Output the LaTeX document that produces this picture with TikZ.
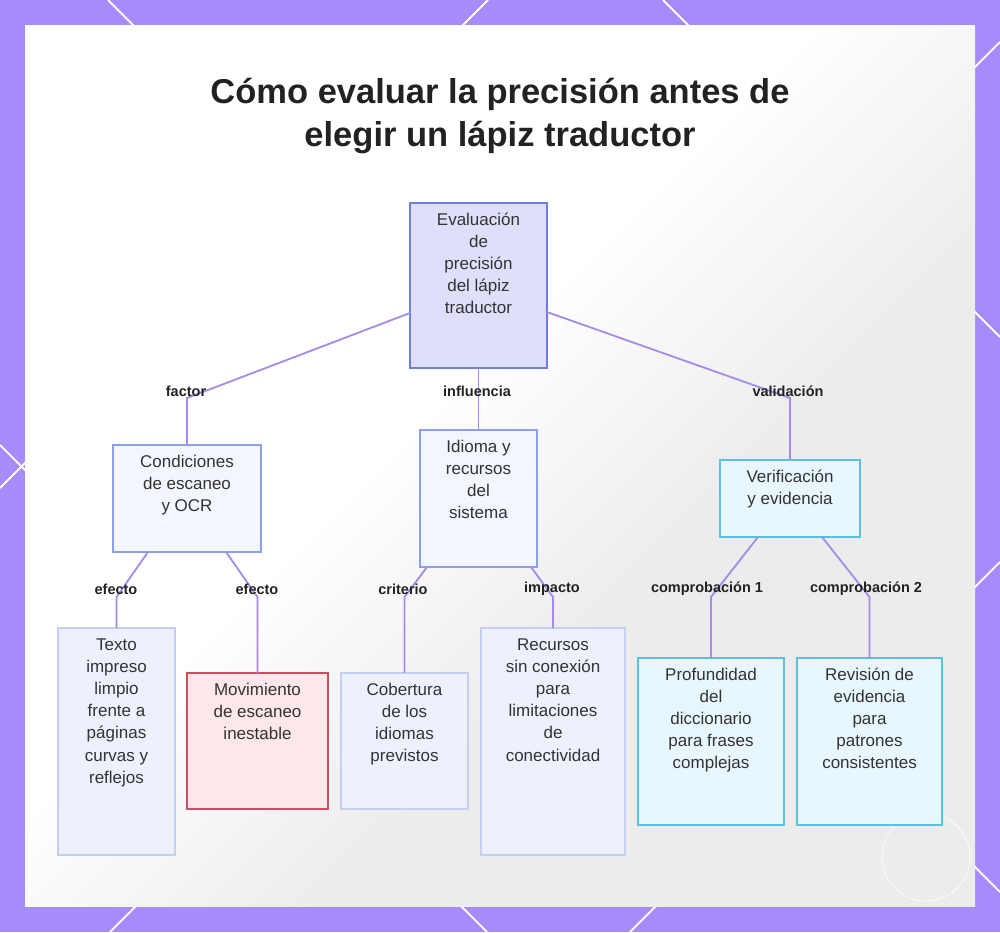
\documentclass[tikz,border=0pt]{standalone}
\usepackage{fontspec}
\setmainfont{Liberation Sans}
\usetikzlibrary{calc}
\definecolor{bgpurple}{HTML}{A78BFA}
\definecolor{connc}{HTML}{A58BE8}
\definecolor{txt}{HTML}{333333}
\definecolor{ttl}{HTML}{222222}
\definecolor{rootfill}{HTML}{DFDFFC}
\definecolor{rootdraw}{HTML}{6F7FD8}
\definecolor{midfill}{HTML}{F3F5FF}
\definecolor{middraw}{HTML}{8CA0E6}
\definecolor{leaffill}{HTML}{EEF1FD}
\definecolor{leafdraw}{HTML}{C5CFF2}
\definecolor{redfill}{HTML}{FDE7EB}
\definecolor{reddraw}{HTML}{C9515F}
\definecolor{cyanfill}{HTML}{E8F7FD}
\definecolor{cyandraw}{HTML}{5BC0DE}
\definecolor{pgray}{HTML}{ECECEC}
\pgfdeclareverticalshading{diagshade}{100bp}{color(0bp)=(pgray); color(40bp)=(pgray); color(55bp)=(white); color(100bp)=(white)}
\newcommand\mybox[7]{\node[#2] (#1) at (#3,#4) {\parbox[c][#6pt][t]{#5pt}{\centering\vspace*{6.5pt}\strut #7}};}
\tikzset{
  boxbase/.style={draw, line width=1.5pt, inner sep=0pt, outer sep=0pt, text=txt, font=\fontsize{17}{22.2}\selectfont},
  rootbox/.style={boxbase, fill=rootfill, draw=rootdraw},
  midbox/.style={boxbase, fill=midfill, draw=middraw},
  leafbox/.style={boxbase, fill=leaffill, draw=leafdraw},
  redbox/.style={boxbase, fill=redfill, draw=reddraw},
  cyanbox/.style={boxbase, fill=cyanfill, draw=cyandraw},
  conn/.style={draw=connc, line width=1.8pt},
  lbl/.style={text=ttl, font=\bfseries\fontsize{14.5}{16}\selectfont, inner sep=1pt},
  lattice/.style={draw=white, line width=2pt}
}
\begin{document}
\begin{tikzpicture}[x=1pt,y=-1pt]
\useasboundingbox (0,0) rectangle (1000,932);
\fill[bgpurple] (0,0) rectangle (1000,932);
% lattice lines on the frame
\draw[lattice] (108,0) -- (1000,892);
\draw[lattice] (663,0) -- (1000,337);
\draw[lattice] (0,445) -- (487,932);
\draw[lattice] (488,0) -- (0,488);
\draw[lattice] (1000,42) -- (110,932);
\draw[lattice] (1000,562) -- (630,932);
% panel
\fill[white] (25,25) rectangle (975,906);
\begin{scope}
\clip (25,25) rectangle (975,906);
\shade[shading=diagshade, shading angle=45] (25,25) rectangle (975,906);
\draw[white, line width=0.8pt, opacity=0.8] (926,857) circle (44);
\end{scope}
% title
\node[text=ttl, font=\bfseries\fontsize{34.5}{42}\selectfont, align=center] (title) at (500,116) {Cómo evaluar la precisión antes de\\elegir un lápiz traductor};
% boxes
\mybox{root}{rootbox}{478.5}{285.5}{137}{165}{Evaluación\\de\\precisión\\del lápiz\\traductor}
\mybox{cond}{midbox}{187}{498.5}{148}{107}{Condiciones\\de escaneo\\y OCR}
\mybox{idioma}{midbox}{478.5}{498.5}{117}{137}{Idioma y\\recursos\\del\\sistema}
\mybox{verif}{cyanbox}{790}{498.5}{140}{77}{Verificación\\y evidencia}
\mybox{texto}{leafbox}{116.5}{741.5}{117}{227}{Texto\\impreso\\limpio\\frente a\\páginas\\curvas y\\reflejos}
\mybox{mov}{redbox}{257.5}{741}{141}{136}{Movimiento\\de escaneo\\inestable}
\mybox{cob}{leafbox}{404.5}{741}{127}{136}{Cobertura\\de los\\idiomas\\previstos}
\mybox{rec}{leafbox}{553}{741.5}{144}{227}{Recursos\\sin conexión\\para\\limitaciones\\de\\conectividad}
\mybox{prof}{cyanbox}{711}{741.5}{146}{167}{Profundidad\\del\\diccionario\\para frases\\complejas}
\mybox{rev}{cyanbox}{869.5}{741.5}{145}{167}{Revisión de\\evidencia\\para\\patrones\\consistentes}
% bend points
\coordinate (b1) at (187,398);
\coordinate (b3) at (790,398);
\coordinate (b4) at (116.5,597);
\coordinate (b5) at (257.5,597);
\coordinate (b6) at (404.5,597);
\coordinate (b7) at (553,597);
\coordinate (b8) at (711,597);
\coordinate (b9) at (869.5,597);
% connectors
\draw[conn] ([yshift=-27.5pt]root.west) -- (b1) -- (cond.north);
\draw[conn] (root.south) -- (idioma.north);
\draw[conn] ([yshift=-26.5pt]root.east) -- (b3) -- (verif.north);
\draw[conn] ([xshift=-39pt]cond.south) -- (b4) -- (texto.north);
\draw[conn] ([xshift=39pt]cond.south) -- (b5) -- (mov.north);
\draw[conn] ([xshift=-51.5pt]idioma.south) -- (b6) -- (cob.north);
\draw[conn] ([xshift=52.5pt]idioma.south) -- (b7) -- (rec.north);
\draw[conn] ([xshift=-32pt]verif.south) -- (b8) -- (prof.north);
\draw[conn] ([xshift=32pt]verif.south) -- (b9) -- (rev.north);
% labels
\node[lbl] (l1) at (186,391) {factor};
\node[lbl] (l2) at (477,391) {influencia};
\node[lbl] (l3) at (788,391) {validación};
\node[lbl] (l4) at (116,589) {efecto};
\node[lbl] (l5) at (257,589) {efecto};
\node[lbl] (l6) at (403,589) {criterio};
\node[lbl] (l7) at (552,589) {impacto};
\node[lbl] (l8) at (707,589) {comprobación 1};
\node[lbl] (l9) at (866,589) {comprobación 2};
\end{tikzpicture}
\end{document}
